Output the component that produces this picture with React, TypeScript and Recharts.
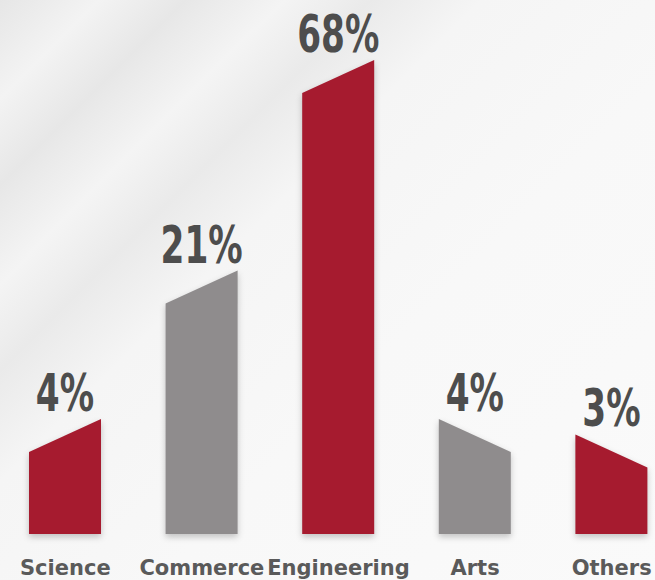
import { Bar, BarChart, LabelList, XAxis, YAxis } from 'recharts';

const categories = ['Science', 'Commerce', 'Engineering', 'Arts', 'Others'];
const shares = [4, 21, 68, 4, 3];

const data = categories.map((name, i) => ({ name, share: shares[i] }));

const RED = '#a61b2f';
const GREY = '#8f8c8d';
const SLANT = 33;
const peak = shares.indexOf(Math.max(...shares));

// bars left of (and including) the tallest one rise to the right, the rest fall
function SlantBar(props: any) {
  const { x, y, width, height, payload } = props;
  const i = categories.indexOf(payload?.name);
  const bottom = y + height;
  const low = y + SLANT;
  const rising = i <= peak;
  const pts = rising
    ? [[x, bottom], [x, low], [x + width, y], [x + width, bottom]]
    : [[x, bottom], [x, y], [x + width, low], [x + width, bottom]];
  return (
    <polygon
      points={pts.map((p) => p.join(',')).join(' ')}
      fill={i % 2 === 0 ? RED : GREY}
      style={{ filter: 'drop-shadow(0 3px 3px rgba(0,0,0,0.22))' }}
    />
  );
}

// no narrow font installed, so squeeze DejaVu horizontally
function ValueLabel(props: any) {
  const { x, y, width, value } = props;
  return (
    <g transform={`translate(${x + width / 2}, ${y - 8}) scale(0.66, 1)`}>
      <text
        x={0}
        y={0}
        textAnchor="middle"
        fill="#4d4d4d"
        fontSize={52}
        fontWeight="bold"
        fontFamily="'DejaVu Sans', sans-serif"
      >
        {value}%
      </text>
    </g>
  );
}

function CategoryTick(props: any) {
  const { x, y, payload } = props;
  return (
    <text
      x={x}
      y={y + 33}
      textAnchor="middle"
      fill="#5a5a5a"
      fontSize={21}
      fontWeight="bold"
      fontFamily="'DejaVu Sans', sans-serif"
    >
      {payload.value}
    </text>
  );
}

export default function App() {
  return (
    <div
      style={{
        position: 'absolute',
        left: 0,
        top: 0,
        width: 655,
        height: 580,
        overflow: 'hidden',
        background:
          'linear-gradient(135deg, #e6e6e6 0%, #f3f3f3 8%, #e7e7e7 15%, #f4f4f4 23%, #eaeaea 30%, #f5f5f5 39%, #f8f8f8 60%, #fafafa 100%)',
      }}
    >
      <div style={{ marginLeft: -3 }}>
        <BarChart
          width={683}
          height={580}
          data={data}
          margin={{ top: 60, right: 0, bottom: 16, left: 0 }}
        >
          <XAxis
            dataKey="name"
            axisLine={false}
            tickLine={false}
            interval={0}
            height={30}
            tick={<CategoryTick />}
          />
          <YAxis hide type="number" scale="sqrt" domain={[0, 68]} />
          <Bar dataKey="share" barSize={72} shape={<SlantBar />} isAnimationActive={false}>
            <LabelList dataKey="share" content={<ValueLabel />} />
          </Bar>
        </BarChart>
      </div>
    </div>
  );
}
